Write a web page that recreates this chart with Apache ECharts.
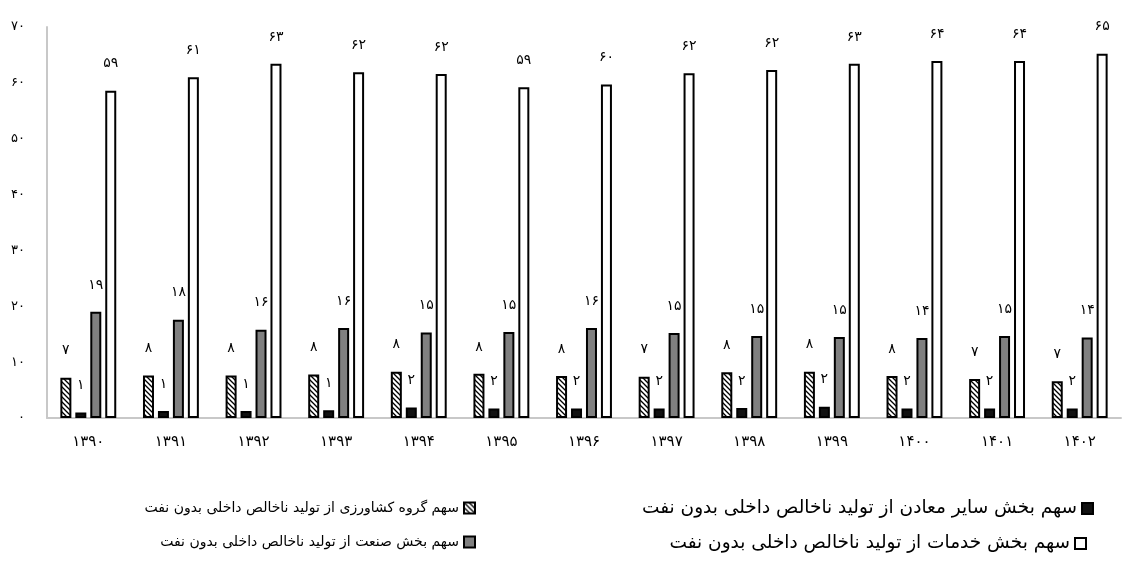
<!DOCTYPE html>
<html>
<head>
<meta charset="utf-8">
<script src="https://cdn.jsdelivr.net/npm/echarts@6/dist/echarts.min.js"></script>
<style>
html,body{margin:0;padding:0;background:#fff;}
#chart{width:1123px;height:561px;}
</style>
</head>
<body>
<div id="chart"></div>
<script>
const years = ['۱۳۹۰','۱۳۹۱','۱۳۹۲','۱۳۹۳','۱۳۹۴','۱۳۹۵','۱۳۹۶','۱۳۹۷','۱۳۹۸','۱۳۹۹','۱۴۰۰','۱۴۰۱','۱۴۰۲'];
const agriculture = [7.2,7.6,7.6,7.8,8.3,7.9,7.5,7.4,8.2,8.3,7.5,7.0,6.6];
const mining = [1.0,1.25,1.25,1.4,1.9,1.7,1.7,1.7,1.8,2.0,1.7,1.7,1.7];
const industry = [19.0,17.6,15.8,16.1,15.3,15.4,16.1,15.2,14.7,14.5,14.3,14.7,14.4];
const services = [58.6,61.0,63.4,61.9,61.6,59.2,59.7,61.7,62.3,63.4,63.9,63.9,65.2];
const seriesNames = [
  'سهم گروه کشاورزی از تولید ناخالص داخلی بدون نفت',
  'سهم بخش سایر معادن از تولید ناخالص داخلی بدون نفت',
  'سهم بخش صنعت از تولید ناخالص داخلی بدون نفت',
  'سهم بخش خدمات از تولید ناخالص داخلی بدون نفت'
];

const faDigits = ['۰','۱','۲','۳','۴','۵','۶','۷','۸','۹'];
function toFa(n){ return String(n).replace(/[0-9]/g, d => faDigits[+d]); }

// hatch pattern
const pc = document.createElement('canvas');
pc.width = 5; pc.height = 5;
const px = pc.getContext('2d');
px.fillStyle = '#fff'; px.fillRect(0,0,5,5);
px.strokeStyle = '#000'; px.lineWidth = 1.3;
px.beginPath();
px.moveTo(-1,-1); px.lineTo(6,6);
px.moveTo(-1,4); px.lineTo(2,7);
px.moveTo(4,-1); px.lineTo(7,2);
px.stroke();

const FONT = '"DejaVu Sans", sans-serif';
const chart = echarts.init(document.getElementById('chart'));

const labelCfg = {
  show: true, position: 'top', distance: 20, color: '#000',
  fontSize: 14, fontFamily: FONT,
  formatter: p => toFa(Math.round(p.value))
};

function bar(name, data, fill){
  return {
    name: name, type: 'bar', data: data, barWidth: 11, barGap: '36%',
    itemStyle: { color: fill, borderColor: '#000', borderWidth: 2 },
    label: labelCfg
  };
}

function legendAt(name, right, top, fs){
  return {
    data: [{ name: name, icon: 'rect' }], right: right, top: top, align: 'right',
    itemWidth: 11, itemHeight: 11, itemGap: 4,
    textStyle: { fontFamily: FONT, fontSize: fs, color: '#000' },
    selectedMode: false
  };
}

chart.setOption({
  animation: false,
  backgroundColor: '#fff',
  grid: { left: 47, right: 2, top: 27, bottom: 143 },
  legend: [
    legendAt(seriesNames[0], 642, 496, 14),
    legendAt(seriesNames[1], 24, 494, 18.5),
    legendAt(seriesNames[2], 642, 530, 14),
    legendAt(seriesNames[3], 31, 529, 18.5)
  ],
  xAxis: {
    type: 'category', data: years,
    axisLine: { lineStyle: { color: '#c8c8c8', width: 2 } },
    axisTick: { show: false },
    axisLabel: { color: '#000', fontSize: 15, fontFamily: FONT, margin: 17 },
    splitLine: { show: false }
  },
  yAxis: {
    type: 'value', min: 0, max: 70, interval: 10,
    axisLine: { show: true, lineStyle: { color: '#c8c8c8', width: 2 } },
    axisTick: { show: false },
    splitLine: { show: false },
    axisLabel: { color: '#000', fontSize: 13, fontFamily: FONT, margin: 22,
      padding: [0,0,8,0], formatter: v => toFa(v) }
  },
  series: [
    bar(seriesNames[0], agriculture, { image: pc, repeat: 'repeat' }),
    bar(seriesNames[1], mining, '#111'),
    bar(seriesNames[2], industry, '#808080'),
    bar(seriesNames[3], services, '#fff')
  ]
});
</script>
</body>
</html>
